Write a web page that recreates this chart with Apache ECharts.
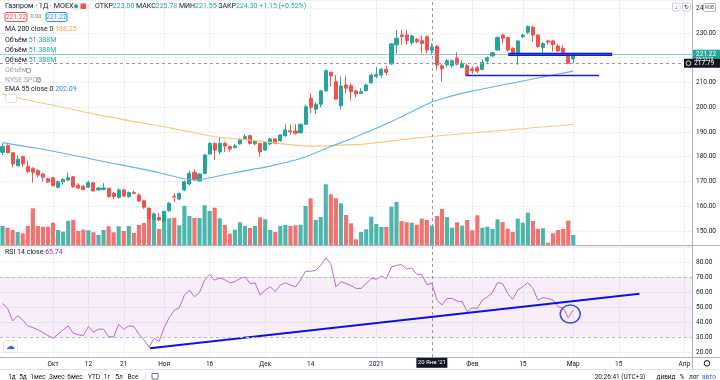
<!DOCTYPE html>
<html><head><meta charset="utf-8">
<script src="https://cdn.jsdelivr.net/npm/echarts/dist/echarts.min.js"></script>
<style>html,body{margin:0;padding:0;background:#fff}#c{width:720px;height:380px}</style>
</head><body><div id="c"></div>
<script>
// ---------- data ----------
const openP = [181.8,184.5,181.6,176.4,180.0,176.0,175.2,174.4,173.0,171.1,
171.5,167.6,169.9,170.6,171.9,168.5,168.1,167.7,169.5,166.6,
166.8,167.3,165.2,163.6,166.6,163.9,165.6,164.5,162.2,159.2,
154.8,155.5,154.0,158.2,164.1,162.9,166.6,169.0,173.7,170.2,
173.3,181.1,185.4,182.0,185.4,184.1,183.7,185.2,187.2,188.5,
185.2,185.4,182.7,185.2,187.2,186.5,188.5,190.5,190.4,189.7,
193.1,203.6,199.2,201.2,206.6,214.1,210.3,200.6,209.0,208.7,
206.6,205.6,206.7,209.9,212.5,213.0,215.3,217.5,225.2,229.2,
229.2,226.1,227.4,226.9,228.5,223.00,224.7,216.8,217.1,216.8,
219.8,216.1,216.8,215.5,216.0,215.3,218.7,220.8,223.1,229.2,
228.2,223.8,221.5,228.5,230.3,232.3,229.2,224.1,226.8,226.8,
224.7,223.8,221.4,219.5];
const closeP = [184.1,181.6,177.1,179.0,177.1,174.1,173.7,172.6,171.7,169.8,
168.3,169.9,170.9,171.5,167.9,167.4,166.8,169.5,166.2,167.4,
167.4,163.9,163.9,166.6,164.1,165.6,165.2,162.1,159.6,154.9,
156.9,154.4,157.8,161.2,163.8,165.2,169.9,173.3,170.6,173.0,
180.7,185.4,182.7,185.4,184.3,183.1,184.3,187.0,188.1,185.4,
186.4,182.0,185.7,187.2,185.4,188.8,190.8,190.1,189.5,193.1,
200.2,200.0,201.2,206.6,214.8,212.6,203.3,208.6,207.7,206.3,
205.4,206.3,209.0,213.0,213.2,215.3,214.1,225.6,227.9,228.5,
226.9,228.8,226.5,225.8,223.1,224.30,217.1,215.5,218.8,218.8,
217.4,217.7,213.0,214.8,214.6,218.1,220.0,222.0,228.2,227.9,
223.1,221.5,226.8,229.2,232.6,229.2,224.5,225.8,226.3,225.4,
222.7,222.0,217.7,221.22];
const lowP = [180.7,181.3,175.7,176.0,175.9,173.3,169.5,171.6,169.9,169.5,
168.0,167.3,168.6,170.3,167.4,166.9,166.4,167.4,165.9,166.3,
166.4,163.5,162.8,163.0,163.7,163.5,164.9,161.8,158.9,153.8,
154.2,154.0,153.6,157.8,161.8,162.4,166.2,168.5,170.3,170.0,
173.0,180.7,178.7,181.0,182.0,182.0,183.3,184.9,186.8,185.0,
184.6,180.0,182.3,184.6,185.0,186.0,188.0,188.9,189.0,189.3,
192.8,197.6,197.2,200.0,206.2,208.3,202.9,199.2,205.5,202.9,
204.0,205.4,206.3,209.5,211.7,212.0,213.0,217.2,221.8,225.2,
225.2,225.2,225.9,221.8,221.8,221.55,215.0,210.3,216.2,216.0,
216.9,215.7,212.9,213.5,213.8,214.9,217.9,220.3,222.7,225.6,
222.5,221.0,217.1,228.0,229.5,226.6,224.0,221.8,225.4,222.5,
222.3,220.9,217.3,217.8];
const highP = [185.5,185.1,181.8,180.7,180.5,178.4,175.8,175.0,173.5,171.5,
171.8,170.3,171.3,173.6,172.1,169.3,168.5,170.3,169.7,167.6,
169.3,167.5,165.8,167.2,167.0,165.9,166.3,165.3,162.6,159.5,
157.6,157.2,158.2,161.8,165.2,165.5,170.4,174.3,174.9,173.3,
181.2,185.8,185.8,187.9,186.1,184.4,185.3,187.5,189.0,189.0,
186.7,185.8,186.1,187.6,187.6,189.2,193.1,192.9,193.2,193.4,
201.0,205.4,202.0,207.0,215.2,214.5,213.0,212.3,212.7,209.5,
207.0,207.7,209.5,213.7,216.3,216.0,216.9,226.0,231.2,231.2,
231.2,229.3,228.0,229.0,229.0,225.78,225.0,217.3,219.5,219.3,
222.2,219.0,217.7,216.5,216.7,219.3,220.5,222.5,228.6,229.6,
228.4,224.2,227.0,229.8,233.0,233.0,229.5,226.2,227.3,227.3,
225.6,225.0,222.0,221.5];
// volume, millions of shares
const volumeM = [97.7,88.9,77.1,66.8,60.1,97.7,188.6,97.7,94.1,94.1,
114.6,77.1,68.4,124.9,128.5,72.0,78.6,75.6,65.3,51.4,
77.1,96.1,65.3,96.1,72.0,97.7,61.7,102.8,113.1,188.6,
145.5,82.2,174.8,137.2,140.3,101.3,200.5,149.1,138.8,138.8,
204.1,174.8,191.7,137.2,102.8,58.1,78.6,116.7,97.7,87.4,
97.7,142.4,132.1,77.1,66.8,97.7,102.8,97.7,101.3,104.3,
200.5,240.0,128.5,143.9,312.0,260.6,240.0,214.3,154.2,111.5,
29.3,66.8,80.7,145.5,107.9,92.5,92.5,196.9,221.0,123.4,
116.7,114.6,104.3,135.2,128.5,99.2,149.1,185.0,143.9,88.9,
116.7,99.2,128.5,75.6,152.7,88.9,94.1,82.2,132.1,118.2,
83.8,66.8,135.2,114.6,166.0,123.4,83.8,85.8,11.8,60.1,
77.1,82.2,124.9,51.388];
const ma200 = [205.5,204.9,204.3,203.8,203.3,202.9,202.5,202.0,201.6,201.2,
200.8,200.4,199.9,199.5,199.1,198.6,198.2,197.8,197.4,196.9,
196.5,196.2,195.8,195.4,195.0,194.6,194.2,193.9,193.5,193.1,
192.8,192.4,192.1,191.7,191.3,190.9,190.5,190.1,189.7,189.3,
188.9,188.5,188.1,187.9,187.7,187.5,187.3,187.1,186.9,186.7,
186.5,186.3,186.1,185.8,185.6,185.3,185.1,184.9,184.7,184.5,
184.4,184.3,184.3,184.3,184.4,184.5,184.6,184.7,184.8,184.9,
184.9,185.0,185.2,185.4,185.7,185.9,186.1,186.4,186.6,186.9,
187.1,187.4,187.6,187.8,188.0,188.25,188.4,188.6,188.8,188.9,
189.1,189.3,189.5,189.6,189.8,190.0,190.1,190.3,190.5,190.7,
190.8,191.0,191.2,191.3,191.5,191.7,191.9,192.0,192.2,192.4,
192.5,192.7,192.9,193.1];
const ema55 = [185.7,185.4,185.0,184.7,184.4,184.0,183.7,183.3,183.0,182.6,
182.2,181.8,181.4,181.0,180.6,180.2,179.8,179.4,178.9,178.5,
178.1,177.7,177.3,176.9,176.5,176.1,175.7,175.3,174.9,174.5,
174.0,173.5,173.0,172.5,172.0,171.5,171.1,170.9,170.7,170.7,
171.1,171.5,171.9,172.3,172.7,173.1,173.5,173.9,174.3,174.7,
175.1,175.4,175.8,176.2,176.7,177.2,177.7,178.2,178.7,179.3,
180.0,180.8,181.6,182.4,183.3,184.1,184.9,185.7,186.5,187.3,
188.1,189.0,189.8,190.6,191.5,192.4,193.3,194.2,195.2,196.2,
197.2,198.2,199.2,200.2,201.2,202.09,202.8,203.4,204.0,204.6,
205.1,205.6,206.1,206.6,207.0,207.4,207.8,208.2,208.6,209.0,
209.4,209.8,210.2,210.6,211.0,211.4,211.8,212.2,212.6,213.0,
213.4,213.8,214.2,214.7];
const rsi14 = [52.4,49.1,40.7,44.2,41.4,37.4,36.3,34.8,33.0,31.0,
29.2,31.9,34.8,37.4,32.6,31.5,31.0,37.0,33.2,35.2,
35.2,30.3,30.0,38.5,35.2,37.4,37.0,31.9,28.1,23.1,
29.2,27.0,36.3,42.9,47.8,49.5,57.9,61.3,56.8,59.7,
67.9,71.7,67.9,69.4,68.2,66.1,66.9,69.0,70.1,65.7,
66.1,57.9,61.3,63.5,60.2,64.6,66.1,64.6,63.5,67.9,
73.8,73.8,74.5,77.8,82.7,78.9,63.5,66.9,65.7,64.2,
62.4,62.4,65.7,69.0,68.6,70.5,69.0,76.7,77.8,78.2,
75.2,76.1,71.7,71.7,65.0,65.74,54.6,51.3,55.7,55.7,
54.0,53.5,46.9,49.5,49.1,54.6,56.8,59.7,66.3,65.7,
59.1,55.1,61.3,63.5,66.3,62.4,54.6,56.2,55.7,54.6,
50.2,49.5,42.9,48.0];
// x-axis tick labels (trading date -> label)
const tickLabels = {'2020-10-01':'Окт','2020-10-12':'12','2020-10-21':'21','2020-11-02':'Ноя',
 '2020-11-16':'16','2020-12-01':'Дек','2020-12-14':'14','2021-01-04':'2021','2021-02-01':'Фев',
 '2021-02-15':'15','2021-03-01':'Мар','2021-03-15':'15','2021-04-01':'Апр'};
// exchange calendar
const firstDay = '2020-09-17';
const slotCount = 137;
const holidays = ['2020-11-04','2020-12-31','2021-01-01','2021-01-07','2021-02-23','2021-03-08'];
const extraSessions = ['2021-02-20'];
// user drawings, in (bar index, value) space
const drawThick = [[100.1,221.35],[120.7,221.35]];
const drawThin = [[91.7,212.8],[118.1,212.8]];
const rsiTrend = [[29.2,22.5],[126.1,58.9]];
const rsiCircle = [[112.4,45.3]];
const crossDate = '2021-01-20', crossPrice = 217.79, lastPrice = 221.22;

// ---------- build ----------
function fmt(d){return d.toISOString().slice(0,10);}
const dates=[]; {let d=new Date(firstDay+'T00:00:00Z');
 while(dates.length<slotCount){const s=fmt(d),w=d.getUTCDay();
  if((w!==0&&w!==6&&holidays.indexOf(s)<0)||extraSessions.indexOf(s)>=0) dates.push(s);
  d.setUTCDate(d.getUTCDate()+1);} }
const UP='#26a69a', DN='#ef5350', GRID='#eef1f6', FONT='Roboto, "Noto Sans", sans-serif', TXT='#131722';
const ohlc = openP.map((o,i)=>[o,closeP[i],lowP[i],highP[i]]);
const vol = volumeM.map((v,i)=>({value:v,itemStyle:{color: closeP[i]>=openP[i]?'rgba(38,166,154,0.82)':'rgba(239,83,80,0.82)'}}));
const isTick=(i,v)=>tickLabels[v]!==undefined;
const vSplit={show:true,interval:isTick,alignWithLabel:true,lineStyle:{color:GRID,width:1}};

const chart=echarts.init(document.getElementById('c'),null,{renderer:'canvas'});
const option={
 animation:false, backgroundColor:'#fff',
 grid:[{left:0,top:0,width:692,height:245,outerBoundsMode:'none'},
       {left:0,top:0,width:692,height:245,outerBoundsMode:'none'},
       {left:0,top:246,width:692,height:111,outerBoundsMode:'none'}],
 xAxis:[
  {type:'category',gridIndex:0,data:dates,boundaryGap:true,axisLine:{show:false},axisTick:{show:false,interval:isTick,alignWithLabel:true},axisLabel:{show:false},splitLine:vSplit},
  {type:'category',gridIndex:1,data:dates,boundaryGap:true,show:false},
  {type:'category',gridIndex:2,data:dates,boundaryGap:true,axisLine:{show:false},axisTick:{show:false,interval:isTick,alignWithLabel:true},
   axisLabel:{show:true,interval:isTick,formatter:v=>tickLabels[v]||'',fontSize:6.5,color:TXT,fontFamily:FONT,margin:4},splitLine:vSplit},
  {type:'value',gridIndex:0,min:-0.5,max:slotCount-0.5,show:false},
  {type:'value',gridIndex:2,min:-0.5,max:slotCount-0.5,show:false}
 ],
 yAxis:[
  {type:'value',gridIndex:0,position:'right',min:144.34,max:243.33,splitNumber:10,axisLine:{show:false},axisTick:{show:false},
   axisLabel:{fontSize:6.5,color:TXT,fontFamily:FONT,margin:4,showMinLabel:false,showMaxLabel:false,formatter:v=>v.toFixed(2)},
   splitLine:{show:true,lineStyle:{color:GRID}}},
  {type:'value',gridIndex:1,min:0,max:1259,show:false},
  {type:'value',gridIndex:2,position:'right',min:16.67,max:90.67,splitNumber:8,axisLine:{show:false},axisTick:{show:false},
   axisLabel:{fontSize:6.5,color:TXT,fontFamily:FONT,margin:4,showMinLabel:false,showMaxLabel:false,formatter:v=>(v>=20&&v<=80)?v.toFixed(2):''},
   splitLine:{show:true,lineStyle:{color:GRID}}}
 ],
 series:[
  {type:'bar',xAxisIndex:1,yAxisIndex:1,data:vol,barWidth:'82%',silent:true},
  {type:'candlestick',xAxisIndex:0,yAxisIndex:0,data:ohlc,barWidth:3.6,silent:true,
   itemStyle:{color:UP,color0:DN,borderColor:UP,borderColor0:DN,borderWidth:1},
   markLine:{symbol:'none',silent:true,label:{show:false},data:[
     {yAxis:lastPrice,lineStyle:{color:'rgba(38,166,154,0.5)',type:'solid',width:1}},
     {yAxis:crossPrice,lineStyle:{color:'#9598a1',type:[3,3],width:1}},
     {xAxis:crossDate,lineStyle:{color:'#9598a1',type:[3,3],width:1}}]}},
  {type:'line',xAxisIndex:0,yAxisIndex:0,data:ma200,symbol:'none',silent:true,lineStyle:{color:'#fbc675',width:1.1}},
  {type:'line',xAxisIndex:0,yAxisIndex:0,data:ema55,symbol:'none',silent:true,lineStyle:{color:'#64b0f0',width:1.1}},
  {type:'line',xAxisIndex:3,yAxisIndex:0,data:drawThin,symbol:'none',silent:true,lineStyle:{color:'#1c1cd8',width:1.4}},
  {type:'line',xAxisIndex:3,yAxisIndex:0,data:drawThick,symbol:'none',silent:true,lineStyle:{color:'#1212ee',width:3.2}},
  {type:'line',xAxisIndex:2,yAxisIndex:2,data:rsi14,symbol:'none',silent:true,lineStyle:{color:'#b96bd0',width:1},
   markArea:{silent:true,itemStyle:{color:'rgba(156,39,176,0.08)'},data:[[{yAxis:30},{yAxis:70}]]},
   markLine:{symbol:'none',silent:true,label:{show:false},data:[
     {yAxis:70,lineStyle:{color:'#c3b4cf',type:[3,3],width:1}},
     {yAxis:30,lineStyle:{color:'#c3b4cf',type:[3,3],width:1}},
     {xAxis:crossDate,lineStyle:{color:'#9598a1',type:[3,3],width:1}}]}},
  {type:'line',xAxisIndex:4,yAxisIndex:2,data:rsiTrend,symbol:'none',silent:true,lineStyle:{color:'#1010e8',width:2}},
  {type:'scatter',xAxisIndex:4,yAxisIndex:2,data:rsiCircle,symbol:'circle',symbolSize:[20,18],silent:true,
   itemStyle:{color:'rgba(0,0,0,0)',borderColor:'#1a1ae0',borderWidth:1.5}}
 ]
};
chart.setOption(option);

// ---------- chrome (TradingView legend / labels / toolbar) ----------
const yLast = chart.convertToPixel({yAxisIndex:0}, lastPrice);
const yCross = chart.convertToPixel({yAxisIndex:0}, crossPrice);
const xCross = chart.convertToPixel({xAxisIndex:2}, crossDate);
function T(x,y,text,o){o=o||{};return {type:'text',z:100,silent:true,style:{x:x,y:y,text:text,fill:o.fill||TXT,fontSize:o.size||7,fontFamily:FONT,
 fontWeight:o.weight||'normal',textAlign:o.align||'left',textVerticalAlign:'middle',verticalAlign:'middle',align:o.align||'left',rich:o.rich}};}
function R(x,y,w,h,o){return {type:'rect',z:99,silent:true,shape:{x:x,y:y,width:w,height:h,r:o.r||0},style:{fill:o.fill||'none',stroke:o.stroke||null,lineWidth:o.lw||1}};}
function L(x1,y1,x2,y2,c,o){o=o||{};return {type:'line',z:98,silent:true,shape:{x1:x1,y1:y1,x2:x2,y2:y2},style:{stroke:c,lineWidth:o.lw||1,lineDash:o.dash||null}};}
function C(cx,cy,r,o){return {type:'circle',z:100,silent:true,shape:{cx:cx,cy:cy,r:r},style:{fill:o.fill||'none',stroke:o.stroke||null,lineWidth:o.lw||1}};}
const rs = (extra)=>Object.assign({l:{fill:TXT,fontSize:7,fontFamily:FONT},v:{fill:UP,fontSize:7,fontFamily:FONT}},extra||{});
const gfx=[
 L(0,245.5,720,245.5,'#b2b5be'), L(0,357.5,720,357.5,'#b2b5be'), L(692.5,0,692.5,369,'#b2b5be'), L(0,369.5,720,369.5,'#e0e3eb'),
 T(5,6.5,'Газпром · 1Д · MOEX',{size:7.2}),
 R(72,2,16,8.5,{fill:'#eef1f6',r:2}), C(76,6.2,2,{fill:UP}), R(80.5,3.5,5.5,5.5,{fill:DN,r:1}),
 T(95,6.5,'{l|ОТКР}{v|223.00} {l|МАКС}{v|225.78} {l|МИН}{v|221.55} {l|ЗАКР}{v|224.30} {v|+1.15 (+0.52%)}',{rich:rs()}),
 R(5,12.5,22,9,{fill:'#fff',stroke:DN,r:1.5}), T(16,17,'221.22',{fill:DN,size:6.6,align:'center'}),
 T(30.5,17,'0.00',{fill:'#787b86',size:5.6}),
 R(46,12.5,21,9,{fill:'#fff',stroke:'#2196f3',r:1.5}), T(56.5,17,'221.22',{fill:'#2196f3',size:6.6,align:'center'}),
 T(5,29,'{l|МА 200 close 0} {o|188.25}',{rich:rs({o:{fill:'#f7a534',fontSize:7,fontFamily:FONT}})}),
 T(5,40.5,'{l|Объём} {v|51.388M}',{rich:rs()}),
 T(5,50.5,'{l|Объём} {v|51.388M}',{rich:rs()}),
 T(5,60.5,'{l|Объём} {v|51.388M}',{rich:rs()}),
 T(5,70.5,'Объём',{fill:'#a3a6af'}), C(28.5,70.5,2.3,{stroke:'#8a8d96',lw:0.9}),
 T(5,80,'NYSE:SPCE',{fill:'#a3a6af'}), C(38.5,80,2.3,{stroke:'#8a8d96',lw:0.9}),
 T(5,89.5,'{l|EMA 55 close 0} {b|202.09}',{rich:rs({b:{fill:'#2196f3',fontSize:7,fontFamily:FONT}})}),
 R(5.5,94.5,11,8,{fill:'#fff',stroke:'#e0e3eb',r:1.5}),
 T(5,252.5,'{l|RSI 14 close} {p|65.74}',{rich:rs({p:{fill:'#9c27b0',fontSize:7,fontFamily:FONT}})}),
 R(3.5,340.5,14,12,{fill:'#fff',stroke:'#e0e3eb',r:2}), T(10.5,346.5,'☁',{fill:'#2962ff',size:9,align:'center'}),
 // price scale extras
 R(672.5,3,7.5,8,{fill:'#fff',stroke:'#d1d4dc',r:1}), T(676.3,7,'↓',{size:6,align:'center'}),
 R(682.5,3,8,8,{fill:'#fff',stroke:'#d1d4dc',r:1}), T(686.5,7,'↻',{size:6,align:'center'}),
 R(703.5,3.5,12,8,{fill:'#fff',stroke:'#b2b5be',r:1}), T(709.5,7.6,'RUB',{size:4.8,align:'center',fill:'#50535e'}),
 R(693,yLast-5,27,13,{fill:UP}), T(696,yLast,'221.22',{fill:'#fff',size:6.6}), T(696,yLast+5.5,'03:33:19',{fill:'#fff',size:4.5}),
 R(684,yCross-4.5,36,9,{fill:'#131722'}), C(688.5,yCross,2.4,{stroke:'#fff',lw:0.8}), T(694,yCross,'217.79',{fill:'#fff',size:6.6}),
 // crosshair date label
 R(xCross-15.5,357.8,31,10,{fill:'#131722'}), T(xCross,362.8,"20 Янв '21",{fill:'#fff',size:6,align:'center'}),
 C(707,363.3,2.8,{stroke:TXT,lw:1}),
 // bottom toolbar
 T(12,377,'1д',{size:6.5,align:'center'}), T(23,377,'5д',{size:6.5,align:'center'}), T(38,377,'1мес',{size:6.5,align:'center'}),
 T(57,377,'3мес',{size:6.5,align:'center'}), T(75,377,'6мес',{size:6.5,align:'center'}), T(94,377,'YTD',{size:6.5,align:'center'}),
 T(107,377,'1г',{size:6.5,align:'center'}), T(119,377,'5л',{size:6.5,align:'center'}), T(133,377,'Все',{size:6.5,align:'center'}),
 L(145.5,372,145.5,380,'#e0e3eb'), R(152,373.5,6,5.5,{stroke:'#50535e',lw:0.8}),
 T(620,377,'20:26:41 (UTC+3)',{size:6.5,align:'center'}),
 T(666,377,'дивид',{size:6.5,align:'center'}), T(682,377,'%',{size:6.5,align:'center'}),
 T(694,377,'лог',{size:6.5,align:'center'}), T(709,377,'авто',{size:6.5,align:'center',fill:'#2962ff'})
];
chart.setOption({graphic:gfx});
</script></body></html>
